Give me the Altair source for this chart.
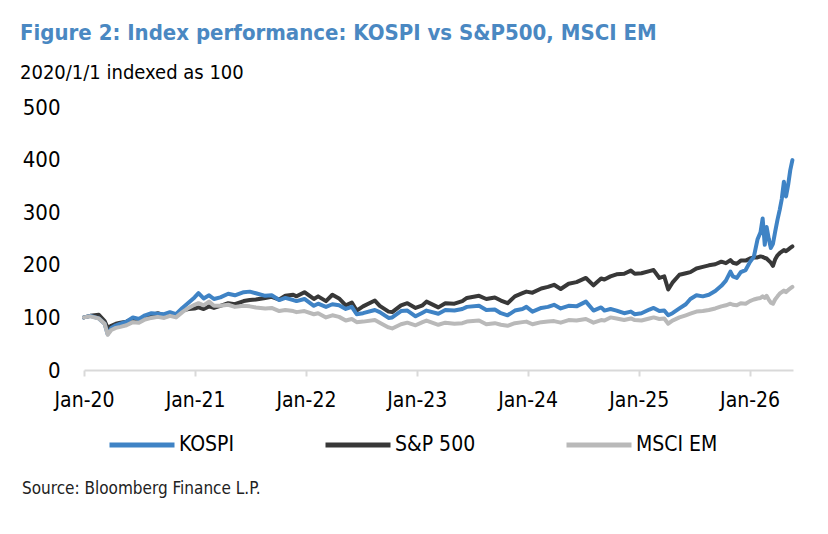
import altair as alt
import pandas as pd

dates = [
    "2020-01-01", "2020-01-22", "2020-02-19", "2020-03-09", "2020-03-19", "2020-03-31",
    "2020-04-15", "2020-04-30", "2020-05-20", "2020-06-10", "2020-06-30", "2020-07-20",
    "2020-08-10", "2020-08-31", "2020-09-21", "2020-10-10", "2020-10-30", "2020-11-20",
    "2020-12-10", "2020-12-30", "2021-01-12", "2021-01-29", "2021-02-16", "2021-03-04",
    "2021-03-25", "2021-04-20", "2021-05-12", "2021-06-10", "2021-06-30", "2021-07-20",
    "2021-08-20", "2021-09-10", "2021-10-05", "2021-10-25", "2021-11-20", "2021-12-01",
    "2021-12-27", "2022-01-27", "2022-02-10", "2022-03-08", "2022-03-29", "2022-04-20",
    "2022-05-12", "2022-06-01", "2022-06-17", "2022-07-08", "2022-08-16", "2022-09-01",
    "2022-09-30", "2022-10-12", "2022-11-10", "2022-12-01", "2022-12-28", "2023-01-20",
    "2023-02-02", "2023-03-13", "2023-04-05", "2023-05-05", "2023-05-31", "2023-06-15",
    "2023-07-25", "2023-08-18", "2023-09-15", "2023-10-05", "2023-10-27", "2023-11-20",
    "2023-12-15", "2023-12-28", "2024-01-17", "2024-02-15", "2024-03-08", "2024-03-28",
    "2024-04-19", "2024-05-15", "2024-06-10", "2024-07-11", "2024-08-05", "2024-08-30",
    "2024-09-10", "2024-09-30", "2024-10-20", "2024-11-14", "2024-12-06", "2024-12-19",
    "2025-01-10", "2025-02-05", "2025-02-19", "2025-03-10", "2025-03-26", "2025-04-08",
    "2025-04-22", "2025-05-15", "2025-06-05", "2025-06-20", "2025-07-10", "2025-07-31",
    "2025-08-20", "2025-09-10", "2025-09-30", "2025-10-15", "2025-10-30", "2025-11-07",
    "2025-11-20", "2025-12-03", "2025-12-19", "2026-01-02", "2026-01-15", "2026-01-27",
    "2026-02-06", "2026-02-13", "2026-02-20", "2026-02-26", "2026-03-05", "2026-03-12",
    "2026-03-19", "2026-03-26", "2026-04-03", "2026-04-10", "2026-04-17", "2026-04-24",
    "2026-05-01", "2026-05-08", "2026-05-15", "2026-05-22",
]

kospi = [
    100, 103, 98, 88, 68, 80, 85, 88, 92, 100, 97, 104,
    108, 107, 106, 110, 106, 118, 128, 138, 146, 136, 142, 135,
    138, 145, 142, 148, 149, 146, 141, 142, 133, 137, 133, 131,
    135, 122, 126, 120, 125, 123, 116, 120, 106, 108, 114, 110,
    99, 100, 112, 113, 102, 109, 113, 107, 114, 113, 116, 120,
    122, 114, 115, 108, 104, 113, 116, 120, 111, 118, 120, 124,
    117, 122, 121, 130, 113, 119, 113, 116, 113, 108, 111, 106,
    108, 115, 118, 112, 113, 104, 108, 117, 125, 135, 142, 140,
    143, 150, 160, 170, 187, 178, 175, 186, 190, 205, 215, 248,
    262, 288, 238, 272, 250, 232, 240, 262, 286, 304, 325, 358,
    330, 352, 380, 399,
]

sp500 = [
    100, 103, 105, 93, 80, 84, 88, 90, 92, 98, 96, 101,
    104, 108, 104, 108, 104, 113, 116, 117, 119, 116, 121, 118,
    122, 127, 125, 131, 133, 134, 137, 139, 134, 141, 143, 140,
    148, 135, 140, 131, 143, 136, 123, 128, 113, 121, 132, 122,
    111, 110, 123, 127, 118, 123, 130, 119, 127, 126, 131, 137,
    141, 135, 138, 132, 127, 140, 146, 149, 147, 155, 158, 162,
    154, 164, 167, 175, 161, 174, 172, 178, 182, 183, 189, 183,
    184, 188, 190, 175, 178, 153, 166, 181, 184, 186, 193, 196,
    199, 201, 206, 203, 209, 204, 202, 208, 208, 212, 214, 214,
    216, 215, 213, 212, 208, 204, 198, 210, 218, 222, 225, 228,
    226, 229, 232, 235,
]

msci_em = [
    100, 102, 98, 88, 67, 76, 80, 82, 85, 91, 90, 96,
    99, 101, 99, 103, 100, 110, 118, 124, 127, 123, 130, 122,
    122, 124, 120, 122, 121, 119, 117, 118, 112, 114, 112, 110,
    112, 106, 108, 100, 104, 101, 94, 97, 91, 92, 95, 90,
    81, 79, 87, 90, 85, 91, 94, 86, 90, 88, 89, 92,
    94, 87, 89, 86, 84, 89, 91, 92, 87, 91, 92, 93,
    90, 95, 94, 97, 90, 95, 94, 100, 98, 95, 98, 95,
    94, 98, 100, 97, 98, 88, 94, 100, 104, 107, 111, 112,
    114, 117, 121, 123, 126, 124, 123, 127, 126, 131, 134, 136,
    137, 140, 137, 141, 134, 128, 126, 134, 140, 145, 148, 151,
    148, 152, 155, 158,
]

series_names = ["KOSPI", "S&P 500", "MSCI EM"]
series_colors = ["#3f83c5", "#383838", "#b9b9b9"]

rows = []
# drawing order: S&P 500 first, then KOSPI, then MSCI EM on top
for name, vals in [("S&P 500", sp500), ("KOSPI", kospi), ("MSCI EM", msci_em)]:
    for d, v in zip(dates, vals):
        rows.append({"date": d, "value": v, "series": name})
df = pd.DataFrame(rows)

FONT = "DejaVu Sans Condensed, Roboto Condensed, Liberation Sans, sans-serif"

lines = alt.Chart(df).mark_line(strokeWidth=4, strokeJoin="round", strokeCap="round").encode(
    x=alt.X(
        "date:T",
        scale=alt.Scale(domain=["2020-01-01", "2026-05-24"]),
        axis=alt.Axis(
            format="%b-%y",
            values=[f"{y}-01-01" for y in range(2020, 2027)],
            title=None,
            grid=False,
            domainColor="#d9d9d9",
            domainWidth=2,
            tickColor="#d9d9d9",
            tickWidth=2,
            tickSize=6,
            labelFontSize=21,
            labelPadding=13,
            labelFlush=False,
            labelColor="#000000",
            labelFont=FONT,
        ),
    ),
    y=alt.Y(
        "value:Q",
        scale=alt.Scale(domain=[0, 500], nice=False),
        axis=alt.Axis(
            values=[0, 100, 200, 300, 400, 500],
            title=None,
            grid=False,
            domain=False,
            ticks=False,
            labelFontSize=22,
            labelPadding=24,
            labelColor="#000000",
            labelFont=FONT,
        ),
    ),
    color=alt.Color(
        "series:N",
        scale=alt.Scale(domain=series_names, range=series_colors),
        legend=alt.Legend(
            title=None,
            orient="none",
            direction="horizontal",
            legendX=23,
            legendY=303,
            symbolType="stroke",
            symbolSize=4225,
            symbolStrokeWidth=5,
            labelFontSize=21,
            labelFont=FONT,
            labelColor="#000000",
            labelOffset=2,
            columnPadding=80,
            padding=0,
        ),
    ),
)

source_df = pd.DataFrame({"t": ["Source: Bloomberg Finance L.P."]})
source = alt.Chart(source_df).mark_text(
    align="left", baseline="alphabetic", fontSize=17, font=FONT, color="#222222"
).encode(text="t:N", x=alt.value(-62), y=alt.value(387))

chart = alt.layer(lines, source).properties(
    width=709,
    height=263,
    autosize=alt.AutoSizeParams(type="none"),
    padding={"left": 84, "top": 107, "right": 35, "bottom": 164},
    title=alt.TitleParams(
        text="Figure 2: Index performance: KOSPI vs S&P500, MSCI EM",
        subtitle="2020/1/1 indexed as 100",
        anchor="start",
        frame="group",
        dx=-64,
        offset=12,
        font=FONT,
        fontSize=22,
        fontWeight="bold",
        color="#4a88c2",
        subtitleFont=FONT,
        subtitleFontSize=20,
        subtitleColor="#000000",
        subtitlePadding=18,
    ),
).configure_view(stroke=None)

chart.save("out.html", embed_options={"renderer": "svg", "actions": False})
